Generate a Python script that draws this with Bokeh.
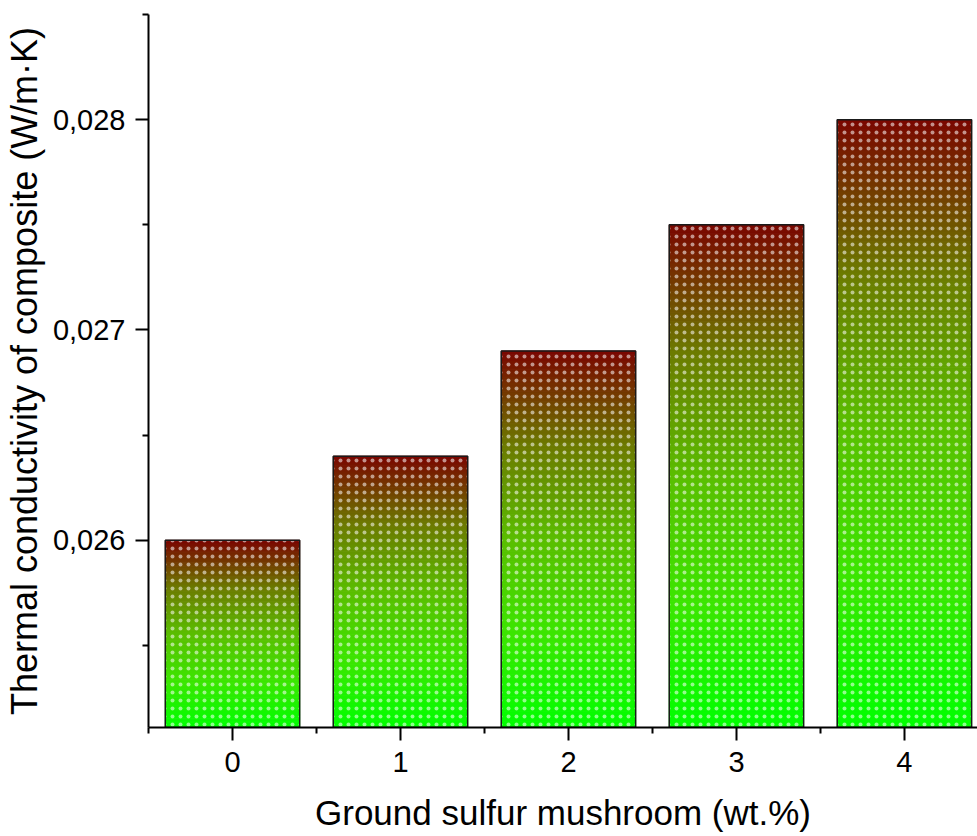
import numpy as np
from bokeh.plotting import figure
from bokeh.models import Range1d, FixedTicker, CustomJSTickFormatter, ColumnDataSource
from bokeh.embed import file_html
from bokeh.resources import INLINE

# ---- data ----
categories = [0, 1, 2, 3, 4]
conductivity = [0.0260, 0.0264, 0.0269, 0.0275, 0.0280]
y_major_ticks = [0.026, 0.027, 0.028]
y_minor_ticks = [0.0255, 0.0265, 0.0275, 0.0285]
x_minor_ticks = [-0.5, 0.5, 1.5, 2.5, 3.5]
x_label = "Ground sulfur mushroom (wt.%)"
y_label = "Thermal conductivity of composite (W/m\u00b7K)"

# ---- style ----
Y0, Y1 = 0.02511, 0.0285
X0, X1 = -0.5, 4.435
BAR_W = 0.8
N_SLICES = 120
stops_t = [0.0, 0.25, 0.5, 0.75, 1.0]
stops_rgb = [(0, 255, 0), (60, 230, 0), (90, 190, 0), (108, 122, 0), (122, 6, 0)]
FONT = "Liberation Sans"


def grad_color(t):
    r = int(round(np.interp(t, stops_t, [c[0] for c in stops_rgb])))
    g = int(round(np.interp(t, stops_t, [c[1] for c in stops_rgb])))
    b = int(round(np.interp(t, stops_t, [c[2] for c in stops_rgb])))
    return "#%02x%02x%02x" % (r, g, b)


p = figure(width=977, height=836, output_backend="svg", toolbar_location=None,
           x_range=Range1d(X0, X1), y_range=Range1d(Y0, Y1),
           min_border_left=148, min_border_right=0, min_border_top=14, min_border_bottom=109)
p.background_fill_color = "white"
p.border_fill_color = "white"
p.outline_line_color = None
p.xgrid.visible = False
p.ygrid.visible = False

# gradient slices for each bar
lefts, rights, bottoms, tops, colors = [], [], [], [], []
for x, v in zip(categories, conductivity):
    edges = np.linspace(Y0, v, N_SLICES + 1)
    for k in range(N_SLICES):
        t = (k + 0.5) / N_SLICES
        lefts.append(x - BAR_W / 2)
        rights.append(x + BAR_W / 2)
        bottoms.append(edges[k])
        tops.append(edges[k + 1])
        colors.append(grad_color(t))

src = ColumnDataSource(dict(left=lefts, right=rights, bottom=bottoms, top=tops, color=colors))
p.quad(left="left", right="right", bottom="bottom", top="top", source=src,
       fill_color="color", line_color="color", line_width=1)

# outline + speckle texture
p.vbar(x=categories, top=conductivity, bottom=Y0, width=BAR_W,
       fill_color=None, line_color="#1a1a1a", line_width=1.5,
       hatch_pattern="dot", hatch_color="white", hatch_alpha=0.55,
       hatch_scale=8, hatch_weight=1)

# axes
for ax in (p.xaxis[0], p.yaxis[0]):
    ax.axis_line_width = 2
    ax.axis_line_color = "black"
    ax.major_tick_line_width = 2
    ax.minor_tick_line_width = 2
    ax.major_tick_in = 0
    ax.major_tick_out = 13
    ax.minor_tick_in = 0
    ax.minor_tick_out = 6
    ax.major_label_text_font = FONT
    ax.major_label_text_font_size = "29px"
    ax.major_label_text_color = "black"
    ax.axis_label_text_font = FONT
    ax.axis_label_text_font_style = "normal"
    ax.axis_label_text_color = "black"

p.xaxis.ticker = FixedTicker(ticks=categories, minor_ticks=x_minor_ticks)
p.xaxis.axis_label = x_label
p.xaxis.axis_label_text_font_size = "35px"
p.xaxis.major_label_standoff = 11
p.xaxis.axis_label_standoff = 18

p.yaxis.ticker = FixedTicker(ticks=y_major_ticks, minor_ticks=y_minor_ticks)
p.yaxis.formatter = CustomJSTickFormatter(code="return tick.toFixed(3).replace('.', ',');")
p.yaxis.axis_label = y_label
p.yaxis.axis_label_text_font_size = "36px"
p.yaxis.major_label_standoff = 10
p.yaxis.axis_label_standoff = 5

open("out.html", "w").write(file_html(p, INLINE))
